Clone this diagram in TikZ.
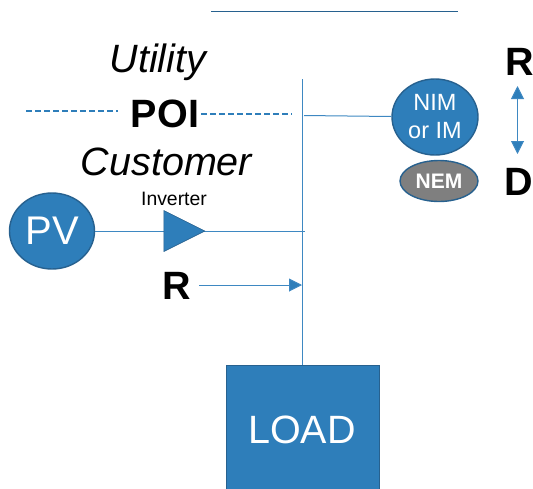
\documentclass[tikz,border=0pt]{standalone}
\usepackage{fontspec}
\setmainfont{Liberation Sans}
\usetikzlibrary{shapes.geometric,arrows.meta}
\definecolor{bfill}{HTML}{2E7EBA}
\definecolor{bedge}{HTML}{27618F}
\definecolor{bline}{HTML}{3E88C2}
\definecolor{gfill}{HTML}{7F7F7F}
\tikzset{
  wire/.style={draw=bline,line width=1pt},
  dashwire/.style={draw=bfill,line width=1.3pt,dash pattern=on 5.5pt off 3.5pt},
  arrowwire/.style={wire,-{Triangle[length=13pt,width=13pt,fill=bfill]}},
  biwire/.style={wire,{Triangle[length=13pt,width=13pt,fill=bfill]}-{Triangle[length=13pt,width=13pt,fill=bfill]}},
  oval/.style={ellipse,draw=bedge,line width=1.4pt,fill=bfill,text=white,inner sep=0pt,align=center},
  big/.style={inner sep=0pt,font=\fontsize{39.5}{39.5}\selectfont\bfseries},
  zone/.style={inner sep=0pt,font=\fontsize{39.5}{39.5}\selectfont\itshape},
}
\begin{document}
\begin{tikzpicture}[x=1pt,y=-1pt]
\useasboundingbox (0,0) rectangle (533,488);
\coordinate (topL) at (211,11);
\coordinate (topR) at (458,11);
\draw[wire,draw=bedge,line width=0.7pt] (topL) -- (topR);
\coordinate (busTop) at (302,79);
\coordinate (busPV) at (305,231);
\coordinate (busNim) at (304,115.5);
\coordinate (busR) at (302,285);
\node[draw=bedge,line width=1pt,fill=bfill,minimum width=153pt,minimum height=140pt,inner sep=0pt] (load) at (302.5,435) {};
\node[text=white,inner sep=0pt,font=\fontsize{39.5}{39.5}\selectfont] (loadtxt) at (302,430) {LOAD};
\draw[wire] (busTop) -- (302,365);
\node[oval,minimum width=85pt,minimum height=76pt,font=\fontsize{40}{40}\selectfont] (pv) at (52,231) {PV};
\node[oval,minimum width=86pt,minimum height=76pt,font=\fontsize{23.5}{28}\selectfont] (nim) at (435,117) {NIM\\or IM};
\node[oval,fill=gfill,minimum width=78pt,minimum height=41pt,font=\fontsize{21}{21}\selectfont\bfseries] (nem) at (439,181) {NEM};
\draw[wire] (pv) -- (busPV);
\draw[wire] (busNim) -- (nim);
\node[isosceles triangle,isosceles triangle apex angle=53.13,isosceles triangle stretches=true,minimum width=41pt,minimum height=41pt,inner sep=0pt,fill=bfill,draw=bedge,line width=0.6pt] (inv) at (176.5,231) {};
\node[inner sep=0pt,font=\fontsize{19.4}{20}\selectfont] (invlabel) at (174,199) {Inverter};
\node[zone] (utility) at (158,62) {Utility};
\node[zone] (customer) at (166.5,162) {Customer};
\node[big] (poi) at (165,114) {POI};
\node[big] (rtop) at (519.5,62) {R};
\node[big] (dnode) at (518.5,182) {D};
\node[big] (rmid) at (176.5,286) {R};
\coordinate (dashLa) at (26,111);
\coordinate (dashLb) at (118,111);
\coordinate (dashRa) at (201,114);
\coordinate (dashRb) at (292,114);
\draw[dashwire] (dashLa) -- (dashLb);
\draw[dashwire] (dashRa) -- (dashRb);
\coordinate (rstart) at (199,285);
\draw[arrowwire] (rstart) -- (busR);
\coordinate (biTop) at (517.5,86);
\coordinate (biBot) at (517.5,154);
\draw[biwire] (biTop) -- (biBot);
\end{tikzpicture}
\end{document}
